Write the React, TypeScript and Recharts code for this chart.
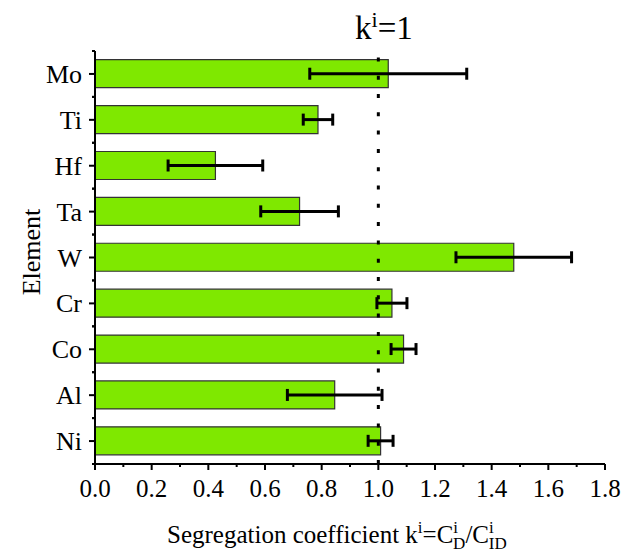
import { BarChart, Bar, XAxis, YAxis, ErrorBar, ReferenceLine } from 'recharts';

const elements = ['Mo', 'Ti', 'Hf', 'Ta', 'W', 'Cr', 'Co', 'Al', 'Ni'];
const kValues = [1.035, 0.787, 0.425, 0.722, 1.478, 1.048, 1.089, 0.846, 1.008];
const kErrors = [0.277, 0.052, 0.167, 0.137, 0.204, 0.053, 0.044, 0.167, 0.044];
const majorTicks = [0, 0.2, 0.4, 0.6, 0.8, 1.0, 1.2, 1.4, 1.6, 1.8];
const minorTicks = [0.1, 0.3, 0.5, 0.7, 0.9, 1.1, 1.3, 1.5, 1.7];

const data = elements.map((el, i) => ({ el, k: kValues[i], err: kErrors[i] }));
const allTicks = [...majorTicks, ...minorTicks].sort((a, b) => a - b);

const W = 624;
const H = 554;
const M = { top: 51, right: 19, bottom: 30, left: 35 };
const plotTop = 51;
const plotBottom = 464;
const bandH = (plotBottom - plotTop) / elements.length;
const FONT = 'Liberation Serif, Tinos, DejaVu Serif, serif';

const XTick = (props: any) => {
  const { x, y, payload } = props;
  const v = payload.value as number;
  const isMajor = majorTicks.some((t) => Math.abs(t - v) < 1e-6);
  return (
    <g>
      <line x1={x} x2={x} y1={y} y2={y + (isMajor ? 6 : 3)} stroke="#000" strokeWidth={2} />
      {isMajor && (
        <text x={x} y={y + 33} textAnchor="middle" style={{ fontFamily: FONT, fontSize: 25 }} fill="#000">
          {v.toFixed(1)}
        </text>
      )}
    </g>
  );
};

const YTick = (props: any) => {
  const { x, y, payload } = props;
  return (
    <g>
      <line x1={x - 6} x2={x} y1={y} y2={y} stroke="#000" strokeWidth={2} />
      {/* kleine Striche an den Kategoriegrenzen */}
      <line x1={x - 3} x2={x} y1={y - bandH / 2} y2={y - bandH / 2} stroke="#000" strokeWidth={2} />
      <line x1={x - 3} x2={x} y1={y + bandH / 2} y2={y + bandH / 2} stroke="#000" strokeWidth={2} />
      <text x={x - 13} y={y + 9} textAnchor="end" style={{ fontFamily: FONT, fontSize: 26 }} fill="#000">
        {payload.value}
      </text>
    </g>
  );
};

export default function App() {
  return (
    <div
      style={{ position: 'absolute', left: 0, top: 0, width: W, height: H, background: '#fff', fontFamily: FONT }}
    >
      <BarChart width={W} height={H} data={data} layout="vertical" margin={M} barCategoryGap="19%">
        <XAxis
          type="number"
          domain={[0, 1.8]}
          ticks={allTicks}
          interval={0}
          height={60}
          tickSize={0}
          tickMargin={0}
          tick={<XTick />}
          tickLine={false}
          axisLine={{ stroke: '#000', strokeWidth: 2 }}
          allowDataOverflow
        />
        <YAxis
          type="category"
          dataKey="el"
          width={60}
          tickSize={0}
          tickMargin={0}
          tick={<YTick />}
          tickLine={false}
          interval={0}
          axisLine={{ stroke: '#000', strokeWidth: 2 }}
        />
        <ReferenceLine x={1} stroke="#000" strokeWidth={3} strokeDasharray="4 14.3" />
        <Bar dataKey="k" fill="#7FE800" stroke="#333" strokeWidth={1.2} isAnimationActive={false}>
          <ErrorBar dataKey="err" direction="x" width={6} stroke="#000" strokeWidth={3} isAnimationActive={false} />
        </Bar>
      </BarChart>
      <svg
        width={W}
        height={H}
        style={{ position: 'absolute', left: 0, top: 0, pointerEvents: 'none', fontFamily: FONT }}
        fill="#000"
      >
        <text x={355} y={39} fontSize={33}>
          k
          <tspan fontSize={22} dy={-12}>i</tspan>
          <tspan fontSize={33} dy={12}>=1</tspan>
        </text>
        <text x={40} y={252} fontSize={26} textAnchor="middle" transform="rotate(-90 40 252)">
          Element
        </text>
        <text x={167} y={543} fontSize={25}>
          Segregation coefficient k
          <tspan fontSize={17} dy={-10}>i</tspan>
          <tspan fontSize={25} dy={10}>=C</tspan>
          <tspan fontSize={17} dy={-10}>i</tspan>
          <tspan fontSize={17} dx={-5} dy={16}>D</tspan>
          <tspan fontSize={25} dy={-6}>/C</tspan>
          <tspan fontSize={17} dy={-10}>i</tspan>
          <tspan fontSize={17} dx={-5} dy={16}>ID</tspan>
        </text>
      </svg>
    </div>
  );
}
